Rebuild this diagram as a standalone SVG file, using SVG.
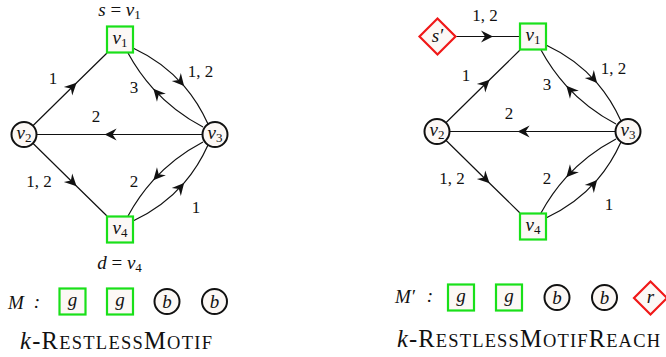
<svg xmlns="http://www.w3.org/2000/svg" width="666" height="357" viewBox="0 0 666 357">
<defs>
<style>
text{font-family:"Liberation Serif","DejaVu Serif",serif;fill:#111;}
.m{font-style:italic;font-size:19px;}
.sub{font-style:normal;font-size:13px;}
.lbl{font-size:17px;}
.sq{fill:#fcf8f5;stroke:#19e019;stroke-width:2.2;}
.ci{fill:#fcf8f5;stroke:#111;stroke-width:2;}
.di{fill:#fcf8f5;stroke:#f01818;stroke-width:2.2;}
.e{fill:none;stroke:#111;stroke-width:1.2;marker-mid:url(#ar);}
.big{font-size:24.5px;}
.sm{font-size:18.5px;}
</style>
<marker id="ar" viewBox="-13 -7 14 14" markerWidth="14" markerHeight="14" refX="0" refY="0" orient="auto" markerUnits="userSpaceOnUse" overflow="visible">
<path d="M0,0 L-12,-6 L-8,0 L-12,6 Z" fill="#111"/>
</marker>
</defs>

<!-- Left graph connectors -->
<g id="connectors-left">
<path class="e" d="M32.9,125.7 L76.6,82.8 L107,53"/>
<path class="e" d="M133,48 Q163.5,62.16 184.12,86.07 Q198.45,102.68 208,124"/>
<path class="e" d="M203,127 Q174.27,111.9 153.33,88.85 Q138.78,72.84 128,53"/>
<path class="e" d="M202.5,134.5 L104.6,134.5 L36.5,134.5"/>
<path class="e" d="M32.9,143.3 L76.6,186.2 L107,216"/>
<path class="e" d="M203,142 Q174.27,157.1 153.33,180.15 Q138.78,196.16 128,216"/>
<path class="e" d="M133,221 Q163.5,206.84 184.12,182.93 Q198.45,166.32 208,145"/>
<g class="lbl" text-anchor="middle">
<text x="53" y="84">1</text>
<text x="200.5" y="77">1, 2</text>
<text x="134" y="93">3</text>
<text x="96" y="121.5">2</text>
<text x="39" y="186.5">1, 2</text>
<text x="134" y="187">2</text>
<text x="196" y="212.5">1</text>
</g>
</g>

<g id="L-v1">
<text class="m" x="119.5" y="15.5" text-anchor="middle" font-size="18px">s <tspan font-style="normal">=</tspan> v<tspan class="sub" dy="3">1</tspan></text>
<rect class="sq" x="107" y="26.5" width="26" height="26"/>
<text class="m" x="120" y="44" text-anchor="middle">v<tspan class="sub" dy="3">1</tspan></text>
</g>
<g id="L-v2">
<circle class="ci" cx="24" cy="134.5" r="12.5"/>
<text class="m" x="24" y="139" text-anchor="middle">v<tspan class="sub" dy="3">2</tspan></text>
</g>
<g id="L-v3">
<circle class="ci" cx="215" cy="134.5" r="12.5"/>
<text class="m" x="215" y="139" text-anchor="middle">v<tspan class="sub" dy="3">3</tspan></text>
</g>
<g id="L-v4">
<rect class="sq" x="107" y="216.5" width="26" height="26"/>
<text class="m" x="120" y="234" text-anchor="middle">v<tspan class="sub" dy="3">4</tspan></text>
<text class="m" x="119.5" y="269" text-anchor="middle">d <tspan font-style="normal">=</tspan> v<tspan class="sub" dy="3">4</tspan></text>
</g>

<!-- Left legend -->
<g id="L-legend">
<text class="m" x="8" y="309" font-size="17px">M</text>
<text class="m" x="37" y="308" text-anchor="middle" font-style="normal">:</text>
<rect class="sq" x="59.5" y="288.5" width="26" height="26"/>
<text class="m" x="72.5" y="306" text-anchor="middle">g</text>
<rect class="sq" x="107" y="288.5" width="26" height="26"/>
<text class="m" x="120" y="306" text-anchor="middle">g</text>
<circle class="ci" cx="167" cy="301.5" r="12.5"/>
<text class="m" x="167" y="307.5" text-anchor="middle">b</text>
<circle class="ci" cx="214.5" cy="301.5" r="12.5"/>
<text class="m" x="214.5" y="307.5" text-anchor="middle">b</text>
</g>
<text id="L-title" x="20" y="349" textLength="192" lengthAdjust="spacing"><tspan class="big" font-style="italic">k</tspan><tspan class="big">-R</tspan><tspan class="sm">ESTLESS</tspan><tspan class="big">M</tspan><tspan class="sm">OTIF</tspan></text>

<!-- Right graph -->
<g id="connectors-right">
<path class="e" d="M455.5,36.5 L493,36.5 L520,36.5"/>
<text class="lbl" x="485" y="21" text-anchor="middle">1, 2</text>
<g transform="translate(413,-3)">
<path class="e" d="M32.9,125.7 L76.6,82.8 L107,53"/>
<path class="e" d="M133,48 Q163.5,62.16 184.12,86.07 Q198.45,102.68 208,124"/>
<path class="e" d="M203,127 Q174.27,111.9 153.33,88.85 Q138.78,72.84 128,53"/>
<path class="e" d="M202.5,134.5 L104.6,134.5 L36.5,134.5"/>
<path class="e" d="M32.9,143.3 L76.6,186.2 L107,216"/>
<path class="e" d="M203,142 Q174.27,157.1 153.33,180.15 Q138.78,196.16 128,216"/>
<path class="e" d="M133,221 Q163.5,206.84 184.12,182.93 Q198.45,166.32 208,145"/>
<g class="lbl" text-anchor="middle">
<text x="53" y="84">1</text>
<text x="200.5" y="77">1, 2</text>
<text x="134" y="93">3</text>
<text x="96" y="121.5">2</text>
<text x="39" y="186.5">1, 2</text>
<text x="134" y="187">2</text>
<text x="196" y="212.5">1</text>
</g>
</g>
</g>

<g id="R-s">
<polygon class="di" points="437.5,18.5 455.5,36.5 437.5,54.5 419.5,36.5"/>
<text class="m" x="437.5" y="41.5" text-anchor="middle">s′</text>
</g>
<g id="R-v1">
<rect class="sq" x="520" y="23.5" width="26" height="26"/>
<text class="m" x="533" y="41" text-anchor="middle">v<tspan class="sub" dy="3">1</tspan></text>
</g>
<g id="R-v2">
<circle class="ci" cx="437" cy="131.5" r="12.5"/>
<text class="m" x="437" y="136" text-anchor="middle">v<tspan class="sub" dy="3">2</tspan></text>
</g>
<g id="R-v3">
<circle class="ci" cx="628" cy="131.5" r="12.5"/>
<text class="m" x="628" y="136" text-anchor="middle">v<tspan class="sub" dy="3">3</tspan></text>
</g>
<g id="R-v4">
<rect class="sq" x="520" y="213.5" width="26" height="26"/>
<text class="m" x="533" y="231" text-anchor="middle">v<tspan class="sub" dy="3">4</tspan></text>
</g>

<!-- Right legend -->
<g id="R-legend">
<text class="m" x="395" y="303" font-size="17px">M′</text>
<text class="m" x="430" y="302" text-anchor="middle" font-style="normal">:</text>
<rect class="sq" x="448" y="284.5" width="26" height="26"/>
<text class="m" x="461" y="302" text-anchor="middle">g</text>
<rect class="sq" x="496" y="284.5" width="26" height="26"/>
<text class="m" x="509" y="302" text-anchor="middle">g</text>
<circle class="ci" cx="557" cy="297.5" r="12.5"/>
<text class="m" x="557" y="303.5" text-anchor="middle">b</text>
<circle class="ci" cx="604.5" cy="297.5" r="12.5"/>
<text class="m" x="604.5" y="303.5" text-anchor="middle">b</text>
<polygon class="di" points="650.5,281.5 667,298 650.5,314.5 634,298"/>
<text class="m" x="650.5" y="303" text-anchor="middle">r</text>
</g>
<text id="R-title" x="397" y="347" textLength="263" lengthAdjust="spacing"><tspan class="big" font-style="italic">k</tspan><tspan class="big">-R</tspan><tspan class="sm">ESTLESS</tspan><tspan class="big">M</tspan><tspan class="sm">OTIF</tspan><tspan class="big">R</tspan><tspan class="sm">EACH</tspan></text>
</svg>
